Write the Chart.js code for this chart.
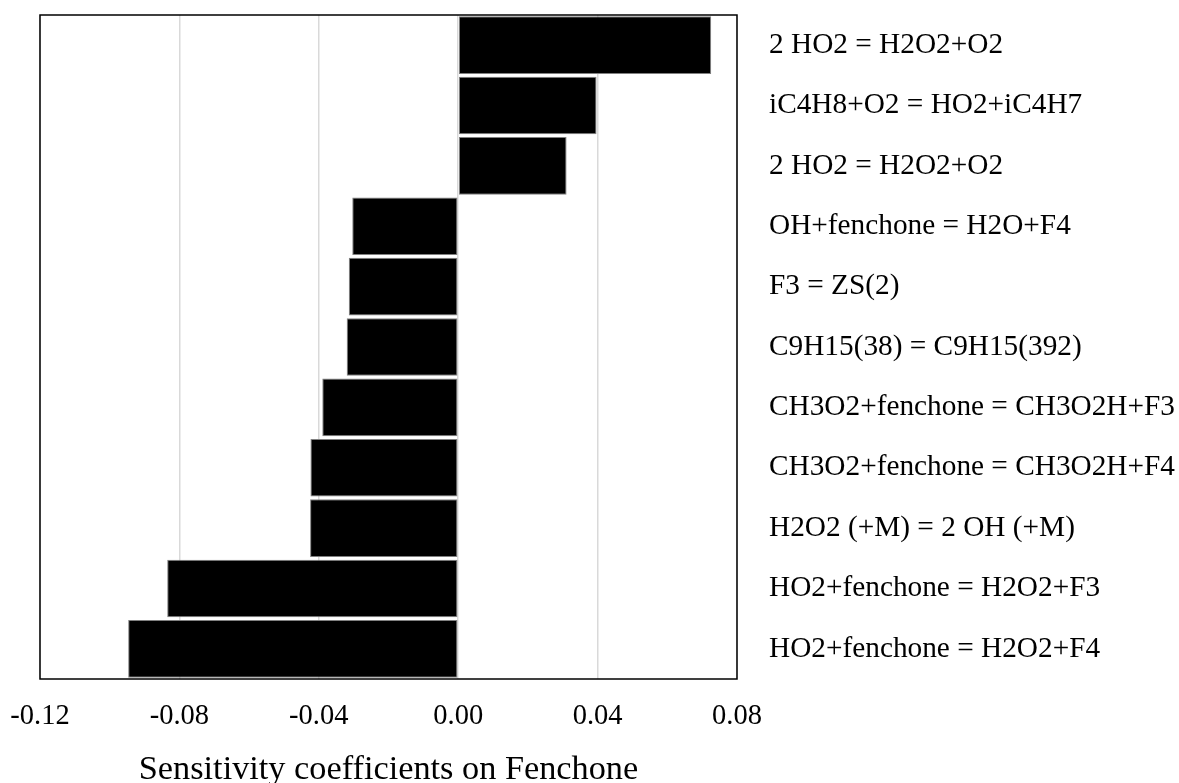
<!DOCTYPE html>
<html>
<head>
<meta charset="utf-8">
<script src="https://cdn.jsdelivr.net/npm/chart.js@4/dist/chart.umd.min.js"></script>
<style>
  html, body { margin: 0; padding: 0; background: #fff; }
  #wrap { width: 1179px; height: 783px; }
</style>
</head>
<body>
<div id="wrap"><canvas id="c" width="1179" height="783"></canvas></div>
<script>
// Reactions, listed top to bottom
const reactions = [
  '2 HO2 = H2O2+O2',
  'iC4H8+O2 = HO2+iC4H7',
  '2 HO2 = H2O2+O2',
  'OH+fenchone = H2O+F4',
  'F3 = ZS(2)',
  'C9H15(38) = C9H15(392)',
  'CH3O2+fenchone = CH3O2H+F3',
  'CH3O2+fenchone = CH3O2H+F4',
  'H2O2 (+M) = 2 OH (+M)',
  'HO2+fenchone = H2O2+F3',
  'HO2+fenchone = H2O2+F4'
];

// Sensitivity coefficients on fenchone
const sensitivity = [
  0.0726, 0.0397, 0.0311, -0.0304, -0.0314, -0.0320,
  -0.0390, -0.0424, -0.0425, -0.0835, -0.0947
];

// Horizontal axis range and tick spacing
const xMin = -0.12;
const xMax = 0.08;
const xStep = 0.04;

const serif = "'Liberation Serif', 'Times New Roman', serif";

// Black frame around the plotting area
const frame = {
  id: 'frame',
  afterDatasetsDraw(chart) {
    const a = chart.chartArea;
    const ctx = chart.ctx;
    ctx.save();
    ctx.strokeStyle = '#000';
    ctx.lineWidth = 1.5;
    ctx.strokeRect(a.left, a.top, a.right - a.left, a.bottom - a.top);
    ctx.restore();
  }
};

new Chart(document.getElementById('c'), {
  type: 'bar',
  data: {
    labels: reactions,
    datasets: [{
      data: sensitivity,
      backgroundColor: '#000',
      borderColor: '#808080',
      borderWidth: 1,
      borderSkipped: false,
      categoryPercentage: 1,
      barPercentage: 0.955
    }]
  },
  options: {
    indexAxis: 'y',
    responsive: false,
    animation: false,
    layout: { padding: { left: 40, top: 15, right: 0, bottom: 0 } },
    plugins: {
      legend: { display: false },
      tooltip: { enabled: false }
    },
    scales: {
      x: {
        min: xMin,
        max: xMax,
        grid: { color: '#d9d9d9', lineWidth: 1.5, drawTicks: false },
        border: { display: false },
        ticks: {
          stepSize: xStep,
          padding: 20,
          color: '#000',
          font: { family: serif, size: 28.5 },
          callback: v => Number(v).toFixed(2)
        },
        title: {
          display: true,
          text: 'Sensitivity coefficients on Fenchone',
          color: '#000',
          font: { family: serif, size: 34.3, lineHeight: 1 },
          padding: { top: 16, bottom: -4 }
        },
        afterFit(scale) {
          scale.height = 104;
          scale.paddingLeft = 0;
          scale.paddingRight = 0;
        }
      },
      y: {
        position: 'right',
        grid: { display: false, drawTicks: false },
        border: { display: false },
        ticks: {
          crossAlign: 'near',
          padding: 32,
          color: '#000',
          font: { family: serif, size: 29.3 }
        },
        afterFit(scale) {
          scale.width = 442;
          scale.paddingTop = 0;
          scale.paddingBottom = 0;
        }
      }
    }
  },
  plugins: [frame]
});
</script>
</body>
</html>
